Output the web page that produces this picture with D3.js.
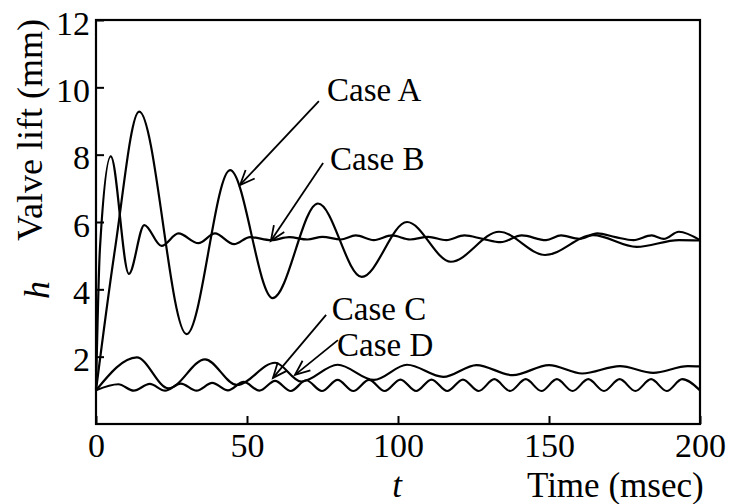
<!DOCTYPE html>
<html>
<head>
<meta charset="utf-8">
<script src="https://cdn.jsdelivr.net/npm/d3@7"></script>
<style>
  body { margin: 0; background: #fff; }
  svg text { font-family: "Liberation Serif", "Times New Roman", serif; fill: #000; }
</style>
</head>
<body>
<div id="canvas"></div>
<script>
// time (msec) vs valve lift h (mm) at peaks / troughs
var caseA = [[0,1],[6.3,5.2],[14.3,9.28],[30,2.67],[44.4,7.54],[58.5,3.74],[73.5,6.55],[88,4.37],
  [103,6.0],[117.5,4.82],[133.5,5.71],[148.7,5.02],[164.6,5.61],[179,5.26],[193,5.46],[200,5.45]];

var caseB = [[0,1],[1.3,5.2],[4.9,7.95],[10.9,4.46],[16,5.91],[21.7,5.29],[27.3,5.66],[33.9,5.37],
  [39.4,5.66],[45.7,5.34],[51,5.55],[58,5.46],[64,5.55],[70,5.48],[75,5.56],[81,5.48],[86,5.6],
  [92,5.46],[98,5.6],[104,5.48],[110,5.56],[116,5.46],[122,5.6],[128,5.5],[134,5.4],[141,5.6],
  [149,5.46],[154,5.6],[160,5.5],[166,5.66],[172,5.55],[178,5.46],[184,5.6],[188,5.5],[193,5.71],[200,5.46]];

var caseC = [[0,1],[13.5,1.98],[24,1.06],[36.1,1.92],[46.6,1.16],[59.3,1.82],[68,1.26],[80,1.76],
  [92,1.31],[103,1.76],[115,1.4],[126,1.75],[138,1.45],[150,1.75],[161,1.5],[173.5,1.72],
  [184.5,1.52],[196,1.72],[200,1.71]];

var caseD = [[0,1],[7.4,1.18],[12.5,0.99],[17.8,1.19],[22.9,0.99],[28.1,1.2],[33.3,0.99],[38.5,1.22],
  [43.7,1.0],[48.9,1.25],[54.1,0.99],[59.3,1.28],[64.5,0.98],[69.6,1.3],[74.8,0.98],[80,1.31],
  [85.2,0.98],[90.4,1.31],[95.6,0.98],[100.8,1.32],[106,0.98],[111.1,1.32],[116.3,0.98],[121.5,1.32],
  [126.7,0.98],[131.9,1.33],[137.1,0.98],[142.3,1.33],[147.5,0.98],[152.6,1.33],[157.8,0.98],
  [163,1.33],[168.2,0.98],[173.4,1.33],[178.6,0.98],[183.8,1.33],[189,0.98],[194.1,1.33],[200,1.0]];

var xTicks = [0, 50, 100, 150, 200];
var yTicks = [2, 4, 6, 8, 10, 12];

// labels: name, text anchor (t,h), arrow from (t,h) to tip (t,h)
var labels = [
  {name:'Case A', at:[76.5,9.59], from:[73.8,9.59], to:[47.7,7.1]},
  {name:'Case B', at:[77.5,7.54], from:[75.2,7.75], to:[57.9,5.44]},
  {name:'Case C', at:[78.1,3.09], from:[76.2,3.24], to:[58.6,1.37]},
  {name:'Case D', at:[79.8,2.02], from:[80.1,2.49], to:[65.9,1.46]}
];

var W = 729, H = 504,
    m = {t:20, r:29, b:80, l:96},
    w = W - m.l - m.r,
    h = H - m.t - m.b;

var svg = d3.select('#canvas').append('svg')
    .attr('width', W).attr('height', H);

var plot = svg.append('g')
    .attr('transform', 'translate(' + m.l + ',' + m.t + ')');

var x = d3.scaleLinear().domain([0, 200]).range([0, w]);
var y = d3.scaleLinear().domain([0, 12]).range([h, 0]);

var line = d3.line()
    .x(function(d){ return x(d[0]); })
    .y(function(d){ return y(d[1]); })
    .curve(d3.curveMonotoneX);

[caseA, caseB, caseC, caseD].forEach(function(s){
  plot.append('path')
    .attr('d', line(s))
    .attr('fill', 'none')
    .attr('stroke', '#000')
    .attr('stroke-width', 2.2);
});

// axes (ticks point inwards)
var yAxis = plot.append('g')
    .call(d3.axisLeft(y).tickValues(yTicks).tickSize(-8).tickPadding(6));
var xAxis = plot.append('g')
    .attr('transform', 'translate(0,' + h + ')')
    .call(d3.axisBottom(x).tickValues(xTicks).tickSize(-8).tickPadding(9));

[yAxis, xAxis].forEach(function(a){
  a.select('.domain').remove();
  a.selectAll('line').attr('stroke', '#000').attr('stroke-width', 2);
  a.selectAll('text').style('font-size', '34px').attr('fill', '#000');
});
yAxis.selectAll('text').attr('dy', '0.42em');

plot.append('rect')
    .attr('x', x(0)).attr('y', y(12))
    .attr('width', x(200) - x(0)).attr('height', y(0) - y(12))
    .attr('fill', 'none').attr('stroke', '#000').attr('stroke-width', 2.2);

// annotations
labels.forEach(function(d){
  plot.append('text')
    .attr('x', x(d.at[0])).attr('y', y(d.at[1]))
    .style('font-size', '33px')
    .text(d.name);

  var x0 = x(d.from[0]), y0 = y(d.from[1]),
      x1 = x(d.to[0]), y1 = y(d.to[1]),
      ang = Math.atan2(y0 - y1, x0 - x1), len = 16, spread = 0.4;
  plot.append('line')
    .attr('x1', x0).attr('y1', y0).attr('x2', x1).attr('y2', y1)
    .attr('stroke', '#000').attr('stroke-width', 1.8);
  plot.append('path')
    .attr('d', 'M' + (x1 + len*Math.cos(ang - spread)) + ',' + (y1 + len*Math.sin(ang - spread)) +
               'L' + x1 + ',' + y1 +
               'L' + (x1 + len*Math.cos(ang + spread)) + ',' + (y1 + len*Math.sin(ang + spread)))
    .attr('fill', 'none').attr('stroke', '#000').attr('stroke-width', 1.8);
});

// axis titles
svg.append('text')
    .attr('transform', 'translate(42,130) rotate(-90)')
    .attr('text-anchor', 'middle')
    .style('font-size', '36px')
    .text('Valve lift (mm)');

svg.append('text')
    .attr('transform', 'translate(49,290) rotate(-90)')
    .attr('text-anchor', 'middle')
    .style('font-size', '36px')
    .style('font-style', 'italic')
    .text('h');

svg.append('text')
    .attr('x', 397).attr('y', 497)
    .attr('text-anchor', 'middle')
    .style('font-size', '35px')
    .style('font-style', 'italic')
    .text('t');

svg.append('text')
    .attr('x', 527).attr('y', 497)
    .style('font-size', '35px')
    .text('Time (msec)');
</script>
</body>
</html>
